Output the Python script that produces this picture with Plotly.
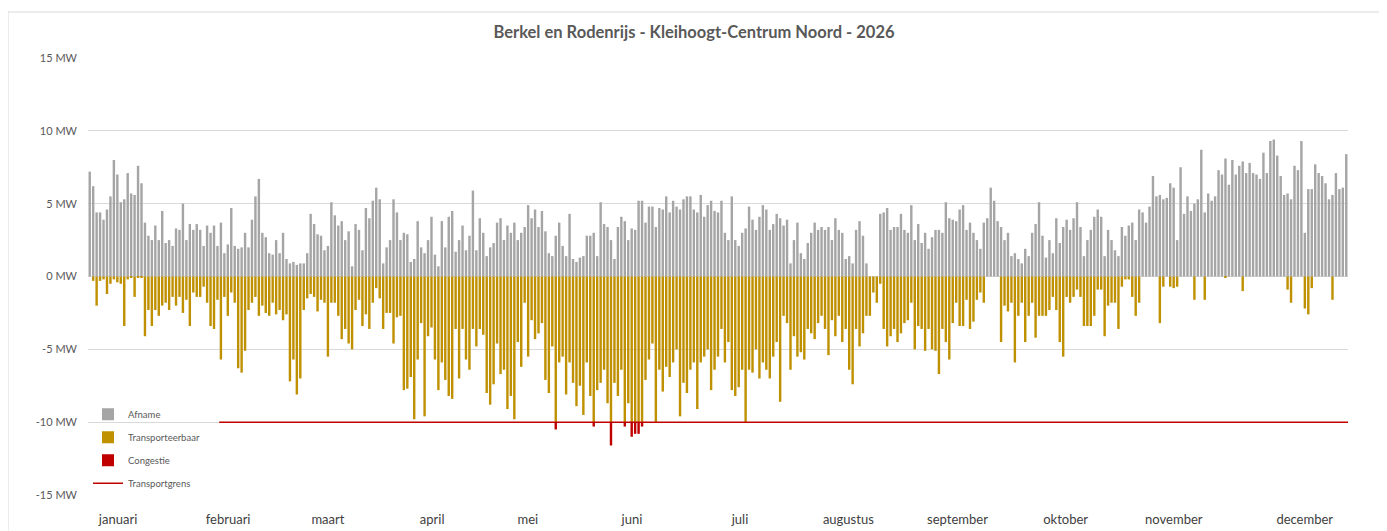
import pandas as pd
import plotly.graph_objects as go

# ---------------- data (daily peak values, MW) ----------------
jaar_start = "2026-01-01"

afname = [
    7.2, 6.2, 4.4, 4.4, 3.9, 4.6, 5.5, 8.0, 7.0, 5.1,
    5.3, 7.1, 5.7, 5.6, 7.6, 6.4, 3.7, 2.8, 2.5, 3.5,
    2.5, 4.5, 2.3, 2.5, 2.1, 3.3, 3.2, 5.0, 2.5, 3.6,
    3.2, 3.6, 3.2, 2.1, 3.5, 3.0, 3.5, 2.1, 3.7, 1.6,
    2.2, 4.7, 2.1, 1.9, 2.0, 3.0, 2.0, 3.9, 5.5, 6.7,
    3.0, 2.7, 1.6, 1.5, 2.5, 1.6, 3.0, 1.2, 0.9, 1.0,
    0.8, 0.9, 0.9, 1.6, 4.3, 3.6, 2.9, 2.8, 1.8, 2.1,
    5.1, 4.2, 3.5, 3.8, 2.5, 3.1, 0.7, 3.6, 3.2, 1.8,
    4.7, 4.0, 5.2, 6.1, 5.3, 0.9, 2.0, 2.5, 5.3, 4.4,
    2.5, 3.0, 2.9, 1.0, 1.2, 3.8, 2.0, 1.6, 2.5, 4.1,
    1.5, 0.7, 3.8, 2.0, 4.1, 4.5, 1.7, 2.5, 3.5, 1.8,
    2.8, 5.9, 1.8, 4.0, 3.0, 1.4, 2.0, 2.3, 3.7, 4.0,
    2.5, 3.5, 3.0, 3.7, 2.5, 3.0, 3.4, 4.9, 4.0, 4.6,
    3.4, 4.5, 3.1, 1.6, 1.4, 2.8, 3.7, 2.1, 1.4, 4.3,
    1.2, 1.0, 1.3, 1.4, 2.8, 2.8, 3.0, 1.4, 5.1, 3.6,
    3.4, 2.5, 1.2, 3.4, 4.1, 3.8, 2.5, 3.3, 3.2, 5.2,
    5.2, 3.7, 4.8, 4.8, 3.4, 4.7, 4.6, 5.5, 4.4, 5.2,
    4.8, 4.6, 5.3, 5.5, 5.5, 4.6, 4.4, 5.6, 4.1, 4.9,
    5.2, 4.5, 4.4, 5.2, 3.0, 2.5, 5.5, 2.5, 2.1, 3.0,
    3.3, 4.8, 3.9, 3.2, 4.1, 4.9, 4.6, 3.2, 3.6, 4.3,
    4.0, 3.5, 3.9, 0.9, 2.5, 3.7, 1.6, 1.2, 2.3, 3.0,
    3.7, 3.2, 3.4, 3.2, 3.4, 2.5, 4.0, 3.2, 3.0, 1.2,
    1.4, 0.9, 3.2, 3.8, 2.8, 0.9, 0.0, 0.0, 0.0, 4.3,
    4.4, 4.7, 3.2, 3.4, 3.4, 4.3, 3.2, 3.0, 4.9, 2.5,
    3.6, 2.3, 3.0, 1.9, 2.7, 3.2, 3.2, 3.0, 5.1, 4.0,
    3.9, 3.8, 4.6, 4.9, 3.2, 3.7, 3.0, 2.5, 1.9, 3.7,
    4.0, 6.1, 5.2, 3.8, 3.4, 2.5, 3.0, 1.4, 1.6, 1.2,
    0.9, 1.9, 1.4, 3.0, 3.6, 5.1, 2.8, 1.3, 2.5, 1.6,
    4.0, 2.3, 3.4, 3.9, 3.2, 4.0, 5.1, 3.4, 1.4, 2.5,
    3.2, 4.1, 4.6, 4.1, 1.4, 3.2, 2.5, 1.8, 1.4, 3.4,
    2.8, 3.5, 3.7, 2.5, 4.6, 4.4, 3.7, 4.8, 6.9, 5.5,
    5.6, 5.3, 5.4, 6.4, 6.1, 2.5, 7.5, 4.3, 5.5, 4.5,
    5.0, 5.3, 8.7, 4.4, 5.7, 5.2, 5.5, 7.3, 7.0, 8.1,
    6.3, 8.0, 7.0, 7.6, 7.9, 7.1, 7.8, 7.1, 7.0, 6.7,
    8.5, 7.1, 9.3, 9.4, 8.3, 6.9, 5.6, 5.7, 5.3, 7.6,
    7.3, 9.3, 3.0, 6.0, 6.0, 7.7, 7.1, 6.9, 6.4, 5.3,
    5.6, 7.1, 6.0, 6.1, 8.4,
]

transporteerbaar = [
    0.0, -0.3, -2.0, -0.3, -0.2, -1.2, -0.5, -0.2, -0.4, -0.5,
    -3.4, -0.2, -0.1, -1.4, -0.1, -0.1, -4.1, -2.3, -3.4, -2.3,
    -2.7, -2.0, -1.8, -2.3, -1.4, -2.0, -1.4, -2.5, -1.6, -3.4,
    -1.1, -1.4, -1.4, -0.7, -1.8, -3.4, -3.6, -1.6, -5.7, -1.4,
    -2.7, -1.1, -1.8, -6.3, -6.6, -5.1, -2.3, -1.8, -1.4, -2.7,
    -2.0, -2.5, -2.7, -1.8, -2.6, -2.3, -3.0, -2.6, -7.2, -5.7,
    -8.1, -7.0, -2.3, -1.5, -1.2, -1.4, -2.4, -1.6, -1.8, -5.5,
    -1.8, -1.8, -2.7, -4.3, -3.6, -4.6, -5.0, -2.3, -1.6, -3.4,
    -2.6, -3.6, -1.8, -0.8, -1.5, -3.6, -2.5, -2.5, -4.6, -2.8,
    -2.7, -7.8, -7.7, -6.9, -9.8, -5.7, -3.2, -9.6, -4.1, -3.5,
    -5.7, -7.8, -5.9, -7.1, -8.2, -8.4, -3.6, -7.0, -3.6, -5.7,
    -6.4, -3.6, -4.8, -3.6, -4.0, -8.0, -8.8, -7.4, -4.6, -6.7,
    -6.4, -9.1, -8.2, -9.8, -4.5, -6.2, -1.8, -5.5, -3.0, -4.3,
    -3.9, -3.2, -7.1, -8.0, -4.8, -10.0, -5.9, -5.5, -8.1, -5.9,
    -7.3, -8.9, -7.5, -9.5, -5.9, -8.2, -10.0, -7.8, -7.3, -6.4,
    -8.7, -10.0, -7.3, -8.2, -6.4, -10.0, -8.7, -10.0, -10.0, -10.0,
    -10.0, -7.1, -5.7, -4.6, -10.0, -6.4, -7.9, -6.2, -6.9, -5.9,
    -5.0, -9.6, -7.3, -8.0, -6.4, -5.9, -9.1, -5.9, -5.5, -5.0,
    -7.8, -6.4, -5.5, -3.6, -5.9, -4.5, -7.8, -8.2, -7.6, -6.4,
    -10.0, -6.4, -6.6, -5.0, -7.0, -5.9, -6.4, -7.0, -5.5, -4.5,
    -8.6, -2.7, -3.2, -6.4, -4.1, -5.5, -5.2, -5.7, -3.6, -3.9,
    -4.3, -3.2, -2.7, -3.6, -5.4, -3.0, -4.1, -2.7, -4.5, -3.6,
    -6.4, -7.4, -3.6, -4.8, -3.9, -2.7, -2.7, -1.1, -1.8, -0.5,
    -3.6, -4.8, -4.1, -3.6, -4.5, -3.9, -3.2, -3.0, -1.8, -5.0,
    -3.4, -3.6, -5.1, -3.6, -5.0, -5.1, -6.7, -3.6, -4.5, -5.7,
    -3.2, -1.8, -3.4, -3.4, -1.6, -3.6, -3.1, -1.6, -1.1, -1.8,
    0.0, 0.0, 0.0, 0.0, -4.5, -2.0, -2.4, -1.8, -5.9, -2.7,
    -1.8, -4.5, -2.7, -1.8, -4.2, -2.7, -2.7, -2.7, -2.3, -1.4,
    -2.3, -4.5, -5.5, -1.4, -1.8, -1.4, -0.9, -1.4, -3.4, -3.4,
    -3.4, -2.7, -0.9, -0.9, -4.1, -2.0, -1.8, -1.8, -3.6, -0.7,
    -0.2, -0.2, -1.4, -2.7, -1.8, 0.0, 0.0, 0.0, 0.0, 0.0,
    -3.2, -0.7, 0.0, -0.7, -0.8, -0.7, 0.0, 0.0, 0.0, 0.0,
    -1.6, 0.0, 0.0, -1.6, 0.0, 0.0, 0.0, 0.0, 0.0, -0.1,
    0.0, 0.0, 0.0, 0.0, -1.0, 0.0, 0.0, 0.0, 0.0, 0.0,
    0.0, 0.0, 0.0, 0.0, 0.0, 0.0, 0.0, -0.9, -1.8, 0.0,
    0.0, 0.0, -2.2, -2.6, -0.8, 0.0, 0.0, 0.0, 0.0, 0.0,
    -1.6, 0.0, 0.0, 0.0, 0.0,
]

# congestion beyond the transport limit (day index in year, MW below the limit)
congestie_dagen = [135, 146, 151, 155, 157, 158, 159, 160]
congestie_waarden = [-0.5, -0.3, -1.6, -0.3, -1.0, -0.8, -0.8, -0.3]

transportgrens_waarde = -10.0
transportgrens_vanaf = "2026-02-08"

maanden = ["januari", "februari", "maart", "april", "mei", "juni", "juli",
           "augustus", "september", "oktober", "november", "december"]
y_ticks = [-15, -10, -5, 0, 5, 10, 15]

# ---------------- build series ----------------
n = len(afname)
dagen = pd.date_range(jaar_start + " 12:00", periods=n, freq="D")
congestie = [0.0] * n
for d, v in zip(congestie_dagen, congestie_waarden):
    congestie[d] = v

grens_x = pd.date_range(transportgrens_vanaf, "2027-01-01", freq="D")
grens_y = [transportgrens_waarde] * len(grens_x)

# month label positions (layout)
maand_label_pos = ["2026-01-09 17:00", "2026-02-10 14:00", "2026-03-11 12:00",
                   "2026-04-10 17:00", "2026-05-08 10:00", "2026-06-07 14:00",
                   "2026-07-08 21:00", "2026-08-09 06:00", "2026-09-09 21:00",
                   "2026-10-11 05:00", "2026-11-11 13:00", "2026-12-19 11:00"]

GREY = "#A5A5A5"
GOLD = "#BF9000"
RED = "#C00000"
TXT = "#595959"
FONT = "Lato, 'Open Sans', sans-serif"

W, H = 1379, 523           # page has an 8px body margin
L, R, T, B = 80, 39, 50, 36
PW, PH = W - L - R, H - T - B

fig = go.Figure()
fig.add_trace(go.Bar(x=dagen, y=afname, name="Afname", marker_color=GREY,
                     marker_line_width=0, legendgroup="a"))
fig.add_trace(go.Bar(x=dagen, y=transporteerbaar, name="Transporteerbaar",
                     marker_color=GOLD, marker_line_width=0, legendgroup="b"))
fig.add_trace(go.Bar(x=dagen, y=congestie, name="Congestie", marker_color=RED,
                     marker_line_width=0, legendgroup="c"))
fig.add_trace(go.Scatter(x=grens_x, y=grens_y, name="Transportgrens", mode="lines",
                         line=dict(color=RED, width=1.5), legendgroup="d"))

fig.update_layout(
    width=W, height=H,
    margin=dict(l=L, r=R, t=T, b=B, autoexpand=False),
    paper_bgcolor="white", plot_bgcolor="white",
    barmode="relative", bargap=0.3,
    font=dict(family=FONT, color=TXT, size=11),
    title=dict(text="<b>Berkel en Rodenrijs - Kleihoogt-Centrum Noord - 2026</b>",
               x=686 / W, xanchor="center", xref="container",
               y=1 - 24 / H, yanchor="middle", yref="container",
               font=dict(family=FONT, size=16.5, color=TXT)),
    showlegend=True,
    legend=dict(x=0.0, y=0.218, xanchor="left", yanchor="top",
                bgcolor="rgba(0,0,0,0)", font=dict(size=9.5, color=TXT),
                tracegroupgap=4, itemwidth=30),
    xaxis=dict(type="date", range=["2026-01-01", "2027-01-01"],
               tickmode="array", tickvals=maand_label_pos, ticktext=maanden,
               ticks="", showgrid=False, zeroline=False, showline=False,
               automargin=False,
               tickfont=dict(size=13, color="#404040"), ticklabelstandoff=15),
    yaxis=dict(range=[-15, 15], tickmode="array", tickvals=y_ticks,
               ticktext=[f"{v} MW" for v in y_ticks],
               showgrid=True, gridcolor="#D9D9D9", gridwidth=1,
               zeroline=False, showline=False, ticks="", automargin=False,
               tickfont=dict(size=11, color=TXT), ticklabelstandoff=10),
)

# chart border
fig.add_shape(type="rect", xref="paper", yref="paper",
              x0=(0 - L) / PW, x1=(1375 - L) / PW,
              y0=-0.2, y1=(PH + T - 4) / PH,
              line=dict(color="#D9D9D9", width=1), fillcolor="rgba(0,0,0,0)",
              layer="below")

fig.write_html("out.html")
